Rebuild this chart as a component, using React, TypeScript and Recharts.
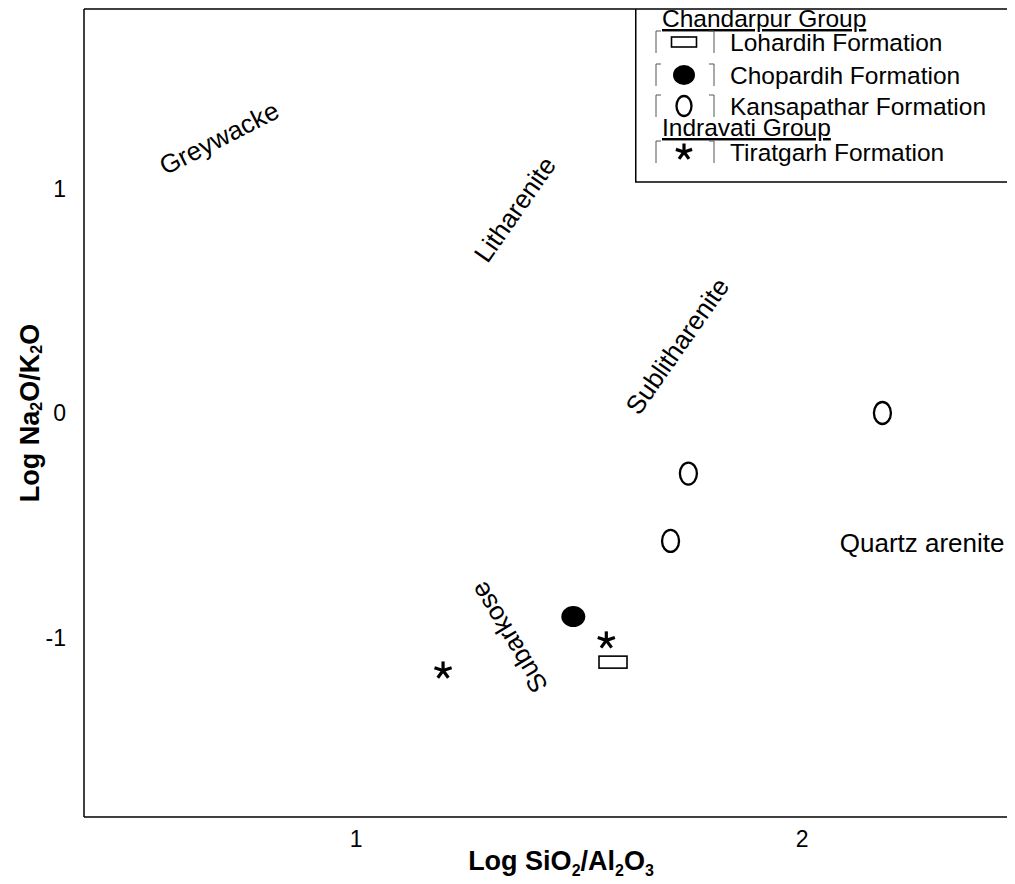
import { Legend, ReferenceLine, Scatter, ScatterChart, XAxis, YAxis } from 'recharts';

// sample points (log SiO2/Al2O3, log Na2O/K2O)
const lohardih = [{ x: 1.576, y: -1.11 }];
const chopardih = [{ x: 1.487, y: -0.907 }];
const kansapathar = [
  { x: 2.18, y: 0.0 },
  { x: 1.745, y: -0.27 },
  { x: 1.705, y: -0.57 }
];
const tiratgarh = [
  { x: 1.195, y: -1.147 },
  { x: 1.561, y: -1.013 }
];

// classification field names and where they sit
const fieldNames = ['Greywacke', 'Litharenite', 'Sublitharenite', 'Subarkose', 'Quartz arenite'];
const fieldX = [0.693, 1.356, 1.72, 1.343, 2.269];
const fieldY = [1.225, 0.907, 0.298, -1.0, -0.578];

const xTicks = [1, 2];
const yTicks = [-1, 0, 1];

const groupNames = ['Chandarpur Group', 'Indravati Group'];
const formationNames = ['Lohardih Formation', 'Chopardih Formation', 'Kansapathar Formation', 'Tiratgarh Formation'];

const FONT = '"Liberation Sans", Arial, sans-serif';
const fieldAngles: Record<string, number> = {
  Greywacke: -27,
  Litharenite: -55,
  Sublitharenite: -55,
  Subarkose: -121,
  'Quartz arenite': 0
};

const fields = fieldNames.map((name, i) => ({ x: fieldX[i], y: fieldY[i], name }));

function RectMark({ cx, cy, w = 28, h = 12 }: any) {
  return <rect x={cx - w / 2} y={cy - h / 2} width={w} height={h} fill="#fff" stroke="#000" strokeWidth={1.6} />;
}

function DotMark({ cx, cy, rx = 12, ry = 10.5 }: any) {
  return <ellipse cx={cx} cy={cy} rx={rx} ry={ry} fill="#000" />;
}

function OMark({ cx, cy, rx = 8.5, ry = 11 }: any) {
  return <ellipse cx={cx} cy={cy} rx={rx} ry={ry} fill="none" stroke="#000" strokeWidth={2.3} />;
}

function StarMark({ cx, cy, r = 9 }: any) {
  const arms = [-90, -18, 54, 126, 198];
  return (
    <g>
      {arms.map((a) => (
        <line
          key={a}
          x1={cx}
          y1={cy}
          x2={cx + r * Math.cos((a * Math.PI) / 180)}
          y2={cy + r * Math.sin((a * Math.PI) / 180)}
          stroke="#000"
          strokeWidth={3.2}
        />
      ))}
    </g>
  );
}

function FieldLabel({ cx, cy, payload }: any) {
  const angle = fieldAngles[payload.name] || 0;
  return (
    <text
      x={cx}
      y={cy}
      transform={`rotate(${angle} ${cx} ${cy})`}
      textAnchor="middle"
      dominantBaseline="central"
      fontFamily={FONT}
      fontSize={26}
      fill="#000"
    >
      {payload.name}
    </text>
  );
}

function Brackets({ cy }: { cy: number }) {
  return (
    <g stroke="#555" strokeWidth={1} fill="none">
      <path d={`M26 ${cy - 11} H21 V${cy + 11}`} />
      <path d={`M74 ${cy - 11} H79 V${cy + 11}`} />
    </g>
  );
}

function LegendBox() {
  const rows = [33, 66, 97, 143];
  const mx = 49;
  const marks = [
    <RectMark cx={mx} cy={rows[0]} w={25} h={10} />,
    <DotMark cx={mx} cy={rows[1]} rx={11} ry={10} />,
    <OMark cx={mx} cy={rows[2]} rx={7.5} ry={10} />,
    <StarMark cx={mx} cy={rows[3]} r={8.5} />
  ];
  return (
    <svg width={380} height={174} style={{ display: 'block', overflow: 'visible' }}>
      <line x1={0.75} y1={0} x2={0.75} y2={173} stroke="#000" strokeWidth={1.5} />
      <line x1={0} y1={173} x2={380} y2={173} stroke="#000" strokeWidth={1.5} />
      <g fontFamily={FONT} fontSize={24.5} fill="#000">
        <text x={27} y={18} textDecoration="underline">{groupNames[0]}</text>
        <text x={27} y={127} textDecoration="underline">{groupNames[1]}</text>
        {formationNames.map((name, i) => (
          <g key={name}>
            <Brackets cy={rows[i]} />
            {marks[i]}
            <text x={95} y={rows[i] + 8.5}>{name}</text>
          </g>
        ))}
      </g>
    </svg>
  );
}

function XTitle({ viewBox }: any) {
  const cx = viewBox.x + viewBox.width / 2 + 12;
  const y = viewBox.y + 53;
  return (
    <text x={cx} y={y} textAnchor="middle" fontFamily={FONT} fontSize={27} fontWeight="bold" fill="#000">
      Log SiO
      <tspan fontSize={16} dy={6}>2</tspan>
      <tspan dy={-6}>/Al</tspan>
      <tspan fontSize={16} dy={6}>2</tspan>
      <tspan dy={-6}>O</tspan>
      <tspan fontSize={16} dy={6}>3</tspan>
    </text>
  );
}

function YTitle({ viewBox }: any) {
  const x = 22;
  const cy = viewBox.y + viewBox.height / 2;
  return (
    <text
      x={x}
      y={cy}
      transform={`rotate(-90 ${x} ${cy})`}
      textAnchor="middle"
      dominantBaseline="central"
      fontFamily={FONT}
      fontSize={27}
      fontWeight="bold"
      fill="#000"
    >
      Log Na
      <tspan fontSize={16} dy={6}>2</tspan>
      <tspan dy={-6}>O/K</tspan>
      <tspan fontSize={16} dy={6}>2</tspan>
      <tspan dy={-6}>O</tspan>
    </text>
  );
}

export default function App() {
  const tickStyle = { fill: '#000', fontSize: 23, fontFamily: FONT };
  return (
    <ScatterChart width={1006} height={876} margin={{ top: 1, right: 0, bottom: 7, left: 0 }}>
      <XAxis
        dataKey="x"
        type="number"
        domain={[0.39, 2.475]}
        ticks={xTicks}
        allowDataOverflow
        tickLine={false}
        axisLine={{ stroke: '#000', strokeWidth: 1.5 }}
        tick={tickStyle}
        tickMargin={8}
        height={60}
        label={{ content: XTitle }}
      />
      <YAxis
        dataKey="y"
        type="number"
        domain={[-1.8, 1.8]}
        ticks={yTicks}
        allowDataOverflow
        tickLine={false}
        axisLine={{ stroke: '#000', strokeWidth: 1.5 }}
        tick={tickStyle}
        tickMargin={12}
        width={76}
        label={{ content: YTitle }}
      />
      <ReferenceLine y={1.8} stroke="#000" strokeWidth={1.5} ifOverflow="visible" />
      <Scatter data={fields} shape={FieldLabel} isAnimationActive={false} legendType="none" />
      <Scatter name="Lohardih Formation" data={lohardih} shape={RectMark} isAnimationActive={false} />
      <Scatter name="Chopardih Formation" data={chopardih} shape={DotMark} isAnimationActive={false} />
      <Scatter name="Kansapathar Formation" data={kansapathar} shape={OMark} isAnimationActive={false} />
      <Scatter name="Tiratgarh Formation" data={tiratgarh} shape={StarMark} isAnimationActive={false} />
      <Legend
        layout="horizontal"
        verticalAlign="middle"
        align="center"
        content={() => <LegendBox />}
        wrapperStyle={{ position: 'absolute', left: 627, top: 1, width: 380, height: 174 }}
      />
    </ScatterChart>
  );
}
